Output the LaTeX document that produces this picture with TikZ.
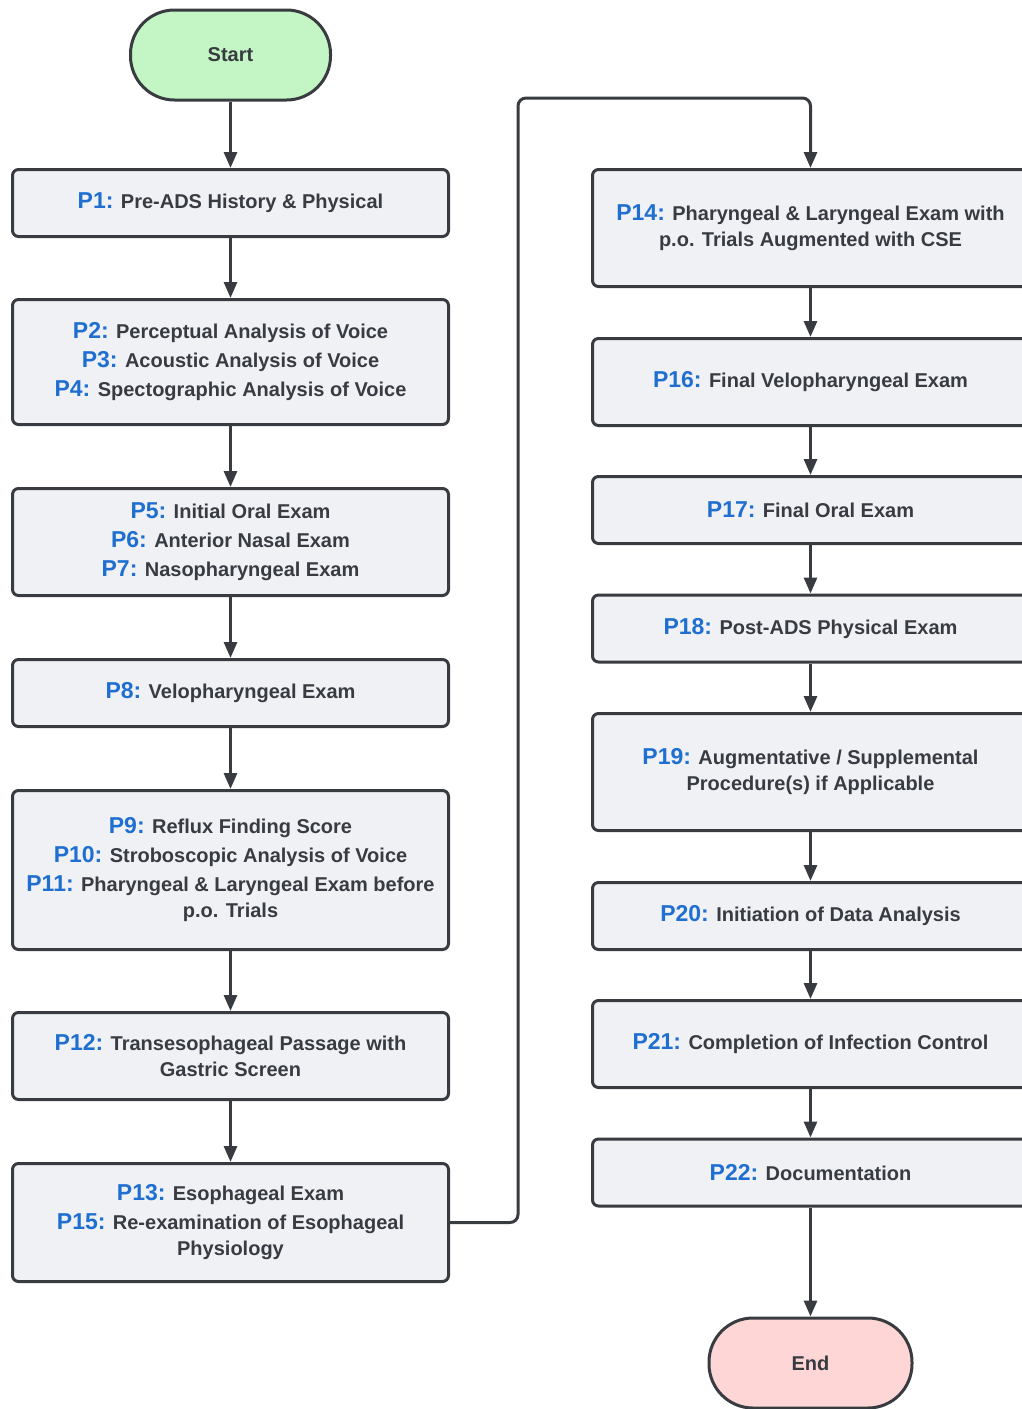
\documentclass[tikz,border=0pt]{standalone}
\usepackage{fontspec}
\setmainfont{Liberation Sans}
\usepackage{tikz}
\usetikzlibrary{positioning}
\usetikzlibrary{arrows.meta}
\definecolor{boxline}{HTML}{383B40}
\definecolor{boxfill}{HTML}{EFF1F4}
\definecolor{textdark}{HTML}{383B42}
\definecolor{plabel}{HTML}{1F6FD1}
\definecolor{startfill}{HTML}{C4F5C4}
\definecolor{endfill}{HTML}{FFD6D6}
\newcommand{\plab}[1]{{\fontsize{23}{26}\selectfont\color{plabel}#1:}}
\tikzset{
  flow_box/.style={rectangle, draw=boxline, fill=boxfill, line width=3pt, rounded corners=6pt, minimum width=436pt, inner sep=0, align=center, text=textdark, font=\bfseries\fontsize{20}{26}\selectfont},
  term_start/.style={rectangle, draw=boxline, fill=startfill, line width=3pt, rounded corners=44pt, minimum width=200pt, minimum height=90pt, inner sep=0, text=textdark, font=\bfseries\fontsize{20}{26}\selectfont},
  term_end/.style={term_start, fill=endfill, minimum width=203pt},
  arrow_flow/.style={-{Triangle[length=16pt,width=13pt]}, line width=3pt, color=boxline},
  arrow_loop/.style={arrow_flow, rounded corners=8pt}}

\begin{document}
\begin{tikzpicture}[x=1pt, y=-1pt]
\useasboundingbox (0,0) rectangle (1022,1409);
\clip (0,0) rectangle (1022,1409);

\node[term_start] at (230.5,55) (start) {Start};

\node[flow_box, minimum height=67pt]  at (230.5,203)    (p1)  {\plab{P1} Pre-ADS History \& Physical};
\node[flow_box, minimum height=125pt] at (230.5,362)    (p2)  {\plab{P2} Perceptual Analysis of Voice\\[3pt]
  \plab{P3} Acoustic Analysis of Voice\\[3pt]
  \plab{P4} Spectographic Analysis of Voice};
\node[flow_box, minimum height=107pt] at (230.5,542)    (p5)  {\plab{P5} Initial Oral Exam\\[3pt]
  \plab{P6} Anterior Nasal Exam\\[3pt]
  \plab{P7} Nasopharyngeal Exam};
\node[flow_box, minimum height=67pt]  at (230.5,693)    (p8)  {\plab{P8} Velopharyngeal Exam};
\node[flow_box, minimum height=159pt] at (230.5,870)    (p9)  {\plab{P9} Reflux Finding Score\\[3pt]
  \plab{P10} Stroboscopic Analysis of Voice\\[3pt]
  \plab{P11} Pharyngeal \& Laryngeal Exam before\\
  p.o. Trials};
\node[flow_box, minimum height=87pt]  at (230.5,1056)   (p12) {\plab{P12} Transesophageal Passage with\\
  Gastric Screen};
\node[flow_box, minimum height=118pt] at (230.5,1222.5) (p13) {\plab{P13} Esophageal Exam\\[3pt]
  \plab{P15} Re-examination of Esophageal\\
  Physiology};

\node[flow_box, minimum height=117pt] at (810.5,228)    (p14) {\plab{P14} Pharyngeal \& Laryngeal Exam with\\
  p.o. Trials Augmented with CSE};
\node[flow_box, minimum height=87pt]  at (810.5,382)    (p16) {\plab{P16} Final Velopharyngeal Exam};
\node[flow_box, minimum height=67pt]  at (810.5,510)    (p17) {\plab{P17} Final Oral Exam};
\node[flow_box, minimum height=67pt]  at (810.5,628.5)  (p18) {\plab{P18} Post-ADS Physical Exam};
\node[flow_box, minimum height=117pt] at (810.5,772)    (p19) {\plab{P19} Augmentative / Supplemental\\
  Procedure(s) if Applicable};
\node[flow_box, minimum height=67pt]  at (810.5,916)    (p20) {\plab{P20} Initiation of Data Analysis};
\node[flow_box, minimum height=87pt]  at (810.5,1044)   (p21) {\plab{P21} Completion of Infection Control};
\node[flow_box, minimum height=67pt]  at (810.5,1172.5) (p22) {\plab{P22} Documentation};

\node[term_end] at (810.5,1363) (end) {End};

\coordinate (loop_low)  at (518,1222.5);
\coordinate (loop_high) at (518,98);

%% Flow
\draw[arrow_flow] (start) -- (p1);
\draw[arrow_flow] (p1) -- (p2);
\draw[arrow_flow] (p2) -- (p5);
\draw[arrow_flow] (p5) -- (p8);
\draw[arrow_flow] (p8) -- (p9);
\draw[arrow_flow] (p9) -- (p12);
\draw[arrow_flow] (p12) -- (p13);
\draw[arrow_loop] (p13.east) -- (loop_low) -- (loop_high) -| (p14.north);
\draw[arrow_flow] (p14) -- (p16);
\draw[arrow_flow] (p16) -- (p17);
\draw[arrow_flow] (p17) -- (p18);
\draw[arrow_flow] (p18) -- (p19);
\draw[arrow_flow] (p19) -- (p20);
\draw[arrow_flow] (p20) -- (p21);
\draw[arrow_flow] (p21) -- (p22);
\draw[arrow_flow] (p22) -- (end);

\end{tikzpicture}
\end{document}
